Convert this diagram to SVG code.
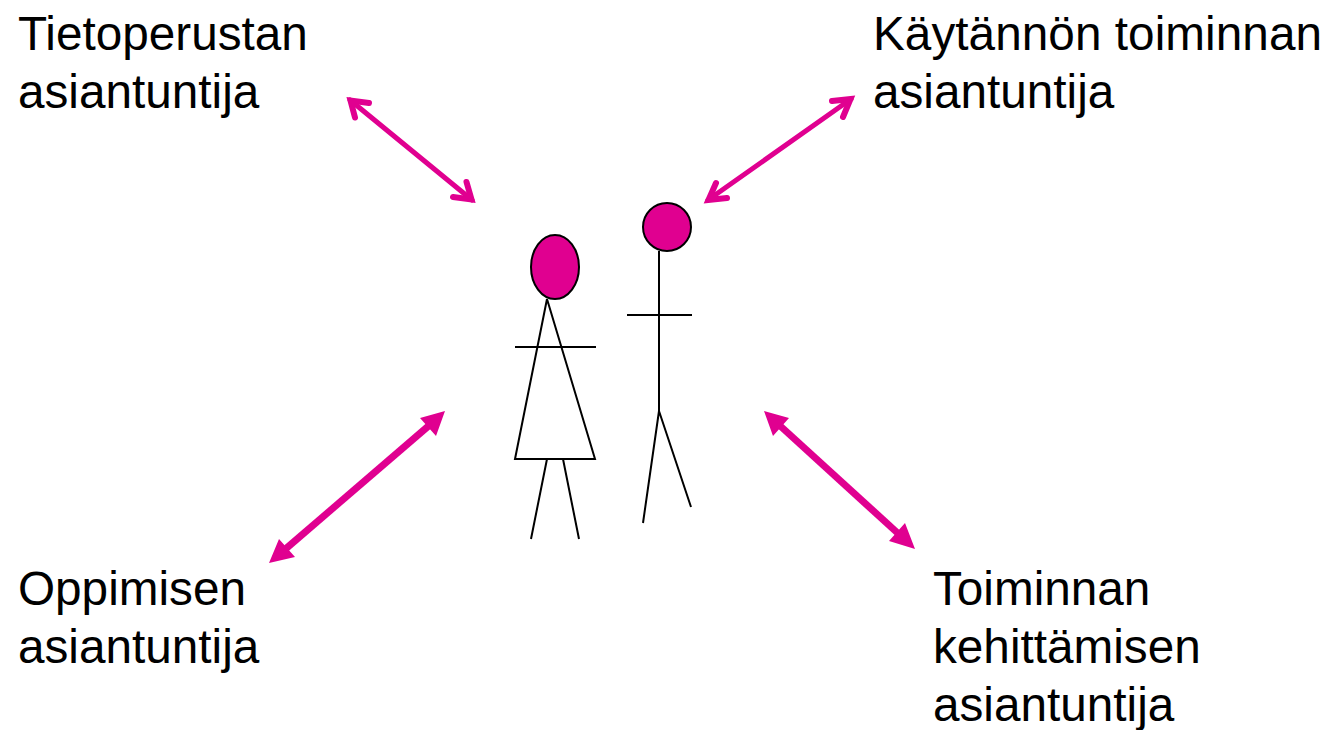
<svg xmlns="http://www.w3.org/2000/svg" width="1330" height="730" viewBox="0 0 1330 730">
<style>
text{font-family:"Liberation Sans",Arial,sans-serif;font-size:47.7px;fill:#000}
.c{stroke:#e00090;fill:none}
.o{stroke-width:5;stroke-linecap:round;stroke-linejoin:miter}
.b{stroke-width:6;stroke-linecap:round;stroke-linejoin:miter}
.t{stroke-width:7}
.f{fill:#e00090}
.h{fill:#e00090;stroke:#000;stroke-width:2}
.l{stroke:#000;stroke-width:2;fill:none}
</style>
<rect width="1330" height="730" fill="#fff"/>
<g id="label-tieto"><text x="18" y="50">Tietoperustan</text><text x="18" y="108">asiantuntija</text></g>
<g id="label-kaytanto"><text x="873" y="50" textLength="449">Käytännön toiminnan</text><text x="873" y="108">asiantuntija</text></g>
<g id="label-oppiminen"><text x="18" y="605">Oppimisen</text><text x="18" y="663">asiantuntija</text></g>
<g id="label-kehitys"><text x="933" y="605">Toiminnan</text><text x="933" y="663">kehittämisen</text><text x="933" y="721">asiantuntija</text></g>
<g id="woman">
<ellipse class="h" cx="555" cy="267" rx="24" ry="32"/>
<path class="l" d="M547 299L515 459H595L547 299M515 347H596M547 459L531 539M563 459L579 539"/>
</g>
<g id="man">
<circle class="h" cx="667" cy="227" r="24"/>
<path class="l" d="M659 251V411M627 315H692M659 411L643 523M659 411L691 507"/>
</g>
<g id="connectors">
<path class="c o" d="M350 100L472 200"/>
<path class="c b" d="M369 103L350.500 100.500L355 117.500M453 197L471.500 199.500L466.500 182"/>
<path class="c o" d="M851 99L708 200"/>
<path class="c b" d="M832 101L850.500 99L843 117M727 198L708.500 200L716 183"/>
<path class="c t" d="M432 423L282 552"/>
<path class="f" d="M445 411L436 436L420 418ZM269 563L279 539L295 557Z"/>
<path class="c t" d="M777 423L902 537"/>
<path class="f" d="M764 411L789 418L773 436ZM915 549L889 541L905 523Z"/>
</g>
</svg>
